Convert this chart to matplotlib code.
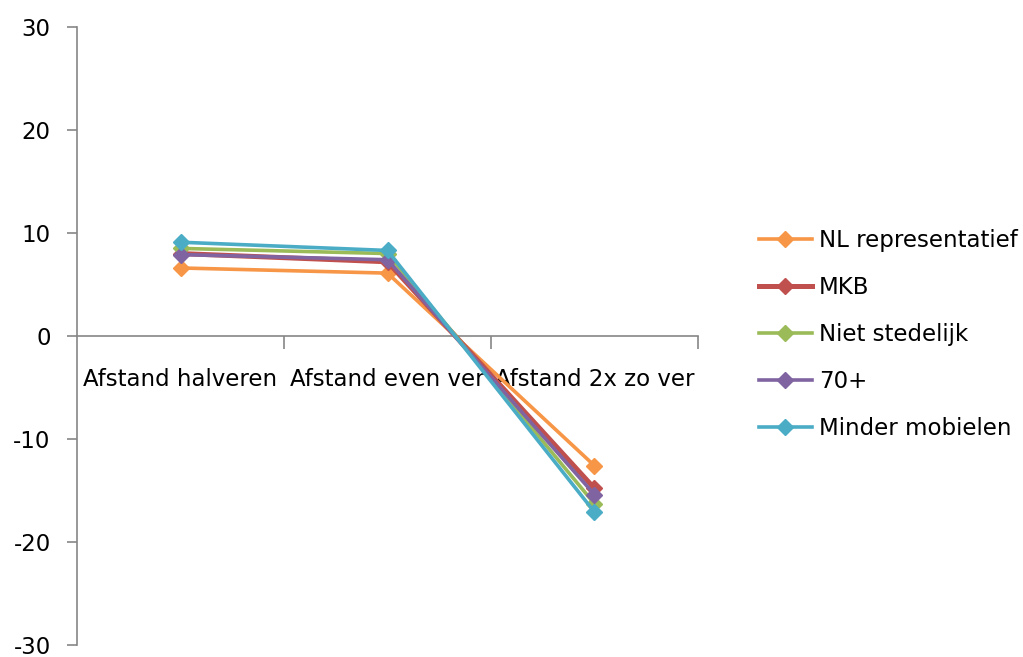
import matplotlib.pyplot as plt

plt.rcParams["axes.unicode_minus"] = False

categories = ["Afstand halveren", "Afstand even ver", "Afstand 2x zo ver"]
series_names = ["NL representatief", "MKB", "Niet stedelijk", "70+", "Minder mobielen"]
nl_repr = [6.6, 6.1, -12.6]
mkb = [8.0, 7.2, -14.8]
niet_sted = [8.5, 8.0, -16.3]
plus70 = [7.9, 7.4, -15.4]
minder_mob = [9.1, 8.3, -17.1]

colors = ["#F79646", "#C0504D", "#9BBB59", "#8064A2", "#4BACC6"]
widths = [2.6, 3.6, 2.6, 2.6, 2.6]

fig = plt.figure(figsize=(10.23, 6.57), dpi=100)
ax = fig.add_axes([0.0753, 0.0183, 0.607, 0.9407])

x = list(range(len(categories)))
all_series = [nl_repr, mkb, niet_sted, plus70, minder_mob]
for name, vals, c, lw in zip(series_names, all_series, colors, widths):
    ax.plot(x, vals, color=c, linewidth=lw, marker="D", markersize=8,
            label=name, zorder=3)

ax.set_xlim(-0.5, 2.5)
ax.set_ylim(-30, 30)
ax.set_yticks([-30, -20, -10, 0, 10, 20, 30])
ax.tick_params(axis="y", labelsize=16.5, length=7, width=1.2, color="#868686", pad=12)

ax.set_xticks([0.5, 1.5, 2.5])
ax.set_xticklabels([])
ax.tick_params(axis="x", length=9, width=1.2, color="#868686", direction="out")

for s in ["top", "right"]:
    ax.spines[s].set_visible(False)
ax.spines["bottom"].set_position(("data", 0))
ax.spines["left"].set_position(("data", -0.5))
for s in ["bottom", "left"]:
    ax.spines[s].set_color("#868686")
    ax.spines[s].set_linewidth(1.2)

for i, cat in enumerate(categories):
    ax.text(i, -4.2, cat, ha="center", va="center", fontsize=16.5, zorder=1)

fig.legend(loc="upper left", bbox_to_anchor=(0.742, 0.652), frameon=False,
           fontsize=16.5, handlelength=2.3, handletextpad=0.3, labelspacing=1.05,
           borderpad=0, borderaxespad=0)

fig.savefig("out.png", dpi=100)
